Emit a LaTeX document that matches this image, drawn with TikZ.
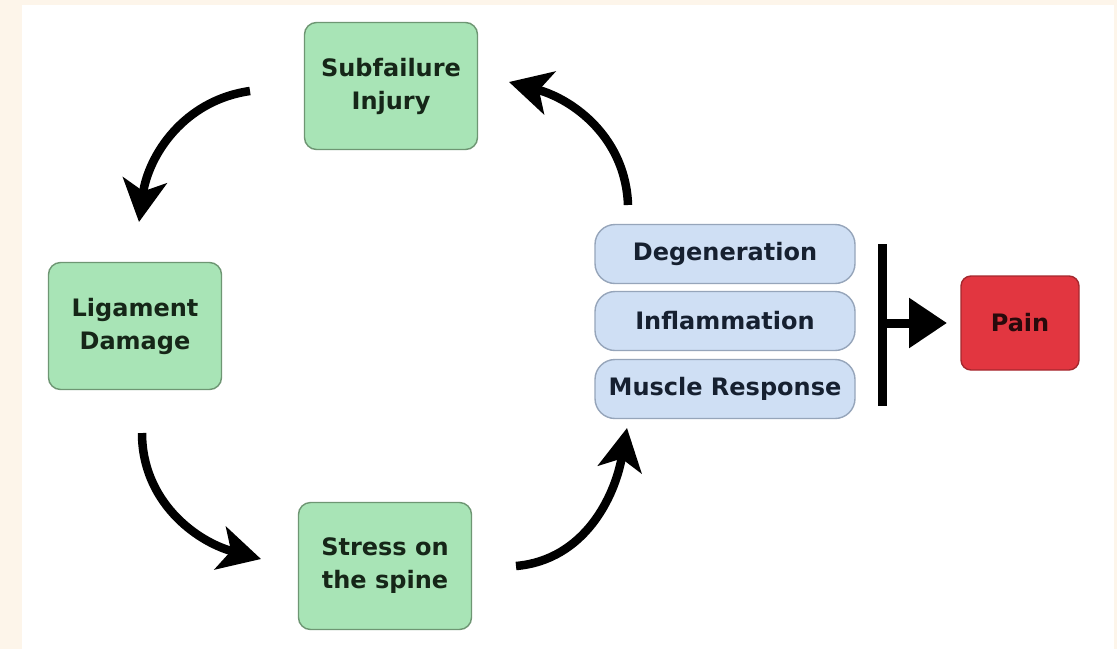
\documentclass[tikz,border=0pt]{standalone}
\usepackage{fontspec}
\setmainfont{DejaVu Sans}
\usetikzlibrary{arrows.meta}

\definecolor{pagecream}{RGB}{253,245,234}
\definecolor{mintfill}{RGB}{168,228,182}
\definecolor{mintline}{RGB}{110,150,115}
\definecolor{minttext}{RGB}{22,38,24}
\definecolor{skyfill}{RGB}{207,223,244}
\definecolor{skyline}{RGB}{150,165,186}
\definecolor{skytext}{RGB}{22,32,48}
\definecolor{painfill}{RGB}{226,54,64}
\definecolor{painline}{RGB}{165,40,46}
\definecolor{paintext}{RGB}{40,10,12}

\tikzset{
  x=1pt, y=-1pt,
  boxtext/.style={font=\bfseries\fontsize{24}{33}\selectfont, align=center, inner sep=0pt},
  greenbox/.style={boxtext, draw=mintline, fill=mintfill, text=minttext, line width=1.4pt,
    rounded corners=12pt, minimum width=173pt, minimum height=127pt},
  bluebox/.style={boxtext, draw=skyline, fill=skyfill, text=skytext, line width=1.4pt,
    rounded corners=20pt, minimum width=260pt, minimum height=59pt},
  painbox/.style={boxtext, draw=painline, fill=painfill, text=paintext, line width=1.4pt,
    rounded corners=10pt, minimum width=118pt, minimum height=94pt},
  cyclearrow/.style={line width=8.5pt, -{Stealth[length=42pt, width=44pt, inset=11pt]}},
  painarrow/.style={line width=9pt, -{Triangle[length=38pt, width=48pt]}}
}

\begin{document}
\begin{tikzpicture}
  % page background with a cream margin
  \fill[pagecream] (0,0) rectangle (1117,649);
  \fill[white] (22,5) rectangle (1114,649);
  \useasboundingbox (0,0) rectangle (1117,649);

  % cycle boxes
  \node[greenbox] (sub) at (391,86)  {Subfailure\\Injury};
  \node[greenbox] (lig) at (135,326) {Ligament\\Damage};
  \node[greenbox] (str) at (385,566) {Stress on\\the spine};

  % stacked consequences
  \node[bluebox] (deg) at (725,254) {Degeneration};
  \node[bluebox] (inf) at (725,321) {Inflammation};
  \node[bluebox] (mus) at (725,389) {Muscle Response};

  % outcome
  \node[painbox] (pain) at (1020,323) {Pain};

  % free ends of the curved cycle arrows
  \coordinate (a1s) at (250,91);
  \coordinate (a1e) at (139,222);
  \coordinate (a2s) at (142,433);
  \coordinate (a2e) at (261,559);
  \coordinate (a3s) at (516,566);
  \coordinate (a3e) at (627,428);
  \coordinate (a4s) at (628,205);
  \coordinate (a4e) at (509,82);

  \draw[cyclearrow] (a1s) to[out=188, in=82]  (a1e);
  \draw[cyclearrow] (a2s) to[out=-90, in=165] (a2e);
  \draw[cyclearrow] (a3s) to[out=5,   in=-100] (a3e);
  \draw[cyclearrow] (a4s) to[out=92,  in=-15] (a4e);

  % collecting bar and arrow to pain
  \coordinate (bartop) at (882,244);
  \coordinate (barbot) at (882,406);
  \coordinate (barmid) at (882,323);
  \coordinate (paintip) at (947,323);
  \draw[line width=9pt] (bartop) -- (barbot);
  \draw[painarrow] (barmid) -- (paintip);
\end{tikzpicture}
\end{document}
